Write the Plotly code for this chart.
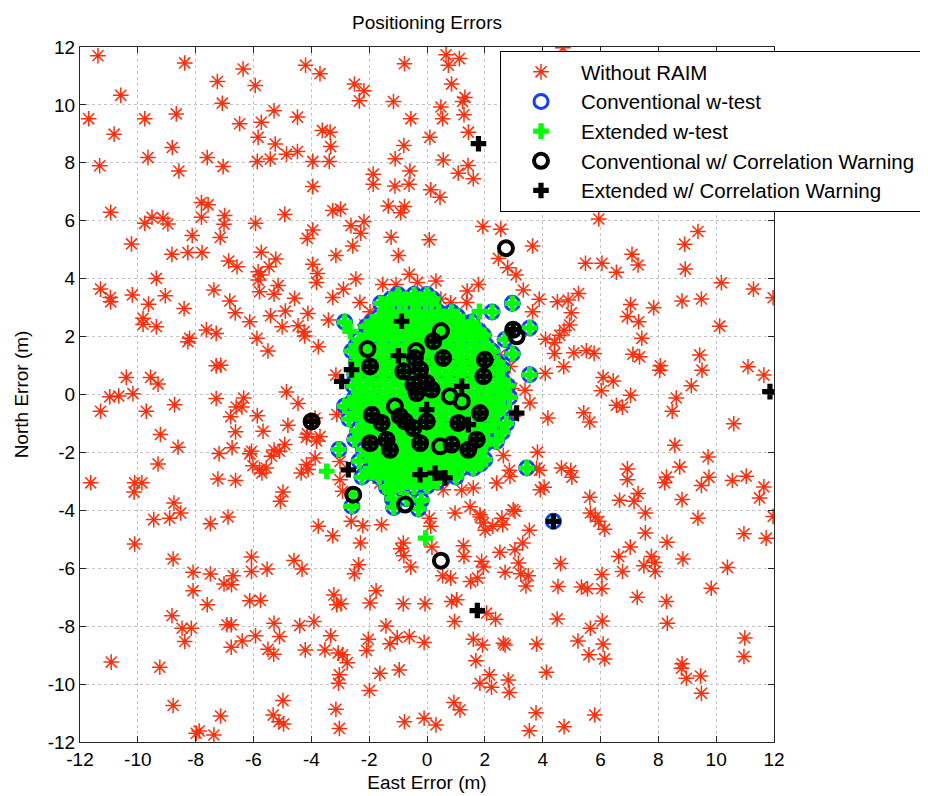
import plotly.graph_objects as go

# ---------------- data (East, North) in metres ----------------
without_raim = [
    (-11.38,11.70),(-8.38,11.45),(-6.36,11.24),(-7.25,10.81),(-5.94,10.67),(-4.20,11.37),(-10.59,10.33),(-7.08,10.06),
    (-11.70,9.52),(-9.76,9.52),(-8.67,9.69),(-10.82,8.99),(-6.48,9.35),(-5.73,9.40),(-5.29,9.80),(-4.48,9.58),
    (-5.84,8.88),(-5.25,8.65),(-8.81,8.53),(-9.65,8.18),(-7.60,8.18),(-4.86,8.30),(-4.48,8.39),(-5.87,8.05),
    (-5.42,8.13),(-11.32,7.90),(-7.05,7.87),(-8.58,7.72),(-7.80,6.63),(-7.57,6.55),(-10.94,6.29),(-9.51,6.12),
    (-9.13,6.09),(-9.76,5.91),(-8.96,5.89),(-7.80,6.12),(-7.00,6.18),(-7.02,5.88),(-5.93,5.91),(-4.92,6.22),
    (-4.14,5.39),(-10.22,5.20),(-8.12,5.49),(-7.15,5.42),(-8.82,4.84),(-8.27,4.90),(-7.78,4.90),(-5.73,4.91),
    (-6.86,4.61),(-6.57,4.41),(-5.23,4.68),(-5.46,4.41),(-5.84,4.24),(-5.75,4.13),(-5.84,3.95),(-9.36,4.01),
    (-11.29,3.64),(-10.95,3.35),(-10.94,3.20),(-10.19,3.44),(-9.05,3.41),(-9.63,3.12),(-7.37,3.61),(-6.82,3.23),
    (-6.63,2.82),(-5.79,3.55),(-5.29,3.46),(-5.15,3.76),(-4.58,3.32),(-4.12,2.80),(-8.40,2.97),(-9.82,2.63),
    (-9.82,2.42),(-9.36,2.34),(-7.63,2.23),(-7.29,2.11),(-6.13,2.51),(-5.41,2.72),(-4.90,2.88),(-5.01,2.34),
    (-4.46,2.37),(-4.25,2.17),(-4.23,2.02),(-8.21,1.94),(-8.27,1.82),(-5.88,1.94),(-5.50,1.50),(-7.29,0.99),
    (-7.13,1.01),(-10.40,0.59),(-9.56,0.59),(-9.30,0.36),(-10.17,0.03),(-10.97,-0.08),(-10.66,-0.05),(-4.86,0.09),
    (-3.70,11.08),(-0.78,11.42),(0.66,11.73),(1.12,11.60),(0.74,11.37),(-2.51,10.72),(-2.18,10.49),(-2.34,10.14),
    (0.85,10.72),(-1.16,10.12),(1.31,10.26),(1.23,10.12),(0.48,9.93),(0.54,9.52),(1.28,9.66),(-0.56,9.52),
    (-3.62,9.12),(-3.35,9.06),(-3.33,8.56),(-3.38,8.05),(-3.95,8.05),(1.43,9.06),(0.10,8.88),(-0.80,8.60),
    (-1.10,8.14),(0.56,8.10),(-0.59,7.72),(-1.86,7.61),(-1.86,7.26),(-1.11,7.20),(-0.62,7.26),(1.42,7.91),
    (1.08,7.64),(1.60,7.45),(0.13,7.07),(0.45,6.81),(-3.95,7.18),(-1.34,6.51),(-0.78,6.49),(-0.91,6.28),
    (-3.26,6.35),(-2.99,6.40),(-2.63,5.83),(-2.18,5.97),(-2.29,5.57),(-3.95,5.68),(-2.57,5.13),(-3.15,4.80),
    (-1.24,5.43),(-0.99,4.80),(0.08,5.34),(1.93,5.80),(2.55,5.71),(3.65,5.13),(2.47,4.70),(2.79,4.38),
    (3.08,4.13),(-3.95,4.50),(-3.79,4.18),(-3.82,3.87),(-2.46,3.99),(-2.89,3.64),(-3.26,3.35),(-2.32,3.18),
    (-0.61,4.15),(-1.53,3.80),(-1.07,3.80),(-0.33,3.87),(0.31,3.92),(1.78,3.80),(1.39,3.57),(1.37,3.18),
    (0.48,3.30),(0.82,3.17),(3.33,3.61),(3.88,3.29),(3.65,2.86),(-1.97,2.86),(-3.41,2.57),(-3.76,1.65),
    (-3.15,0.67),(2.50,1.36),(2.55,1.07),(3.39,0.15),(2.93,0.21),
    (4.70,11.97),(5.94,6.06),(9.37,5.63),(8.91,5.19),(8.93,4.33),(5.48,4.53),(6.05,4.53),(6.55,4.22),
    (7.09,4.84),(7.30,4.47),(10.18,3.86),(11.29,3.64),(11.97,3.34),(4.51,3.20),(4.88,3.26),(5.24,3.49),
    (4.99,2.82),(7.04,3.11),(6.93,2.69),(7.32,2.51),(7.84,3.00),(8.82,3.23),(9.49,3.30),(10.12,2.36),
    (4.10,1.91),(4.41,1.79),(4.59,2.05),(4.74,2.22),(4.93,2.40),(7.43,1.94),(4.41,1.42),(5.08,1.44),
    (5.51,1.51),(5.78,1.42),(7.12,1.39),(7.35,1.30),(9.43,1.36),(4.09,0.73),(4.73,0.96),(8.07,0.99),
    (8.05,0.84),(9.51,0.84),(11.10,0.96),(11.65,0.67),(6.09,0.59),(6.44,0.47),(6.03,0.13),(9.14,0.30),
    (-11.29,-0.58),(-9.71,-0.58),(-8.73,-0.35),(-7.29,-0.14),(-6.34,-0.12),(-6.60,-0.43),(-6.40,-0.43),(-6.79,-0.77),
    (-5.87,-0.73),(-4.46,-0.31),(-9.22,-1.38),(-8.61,-1.82),(-6.62,-1.29),(-5.67,-1.27),(-4.81,-1.06),(-4.14,-1.36),
    (-4.17,-1.48),(-9.30,-2.40),(-7.19,-2.04),(-6.74,-1.84),(-6.13,-2.05),(-6.07,-1.96),(-5.38,-2.13),(-5.29,-1.92),
    (-5.10,-1.96),(-4.92,-1.73),(-6.02,-2.46),(-5.79,-2.59),(-5.71,-2.71),(-5.56,-2.54),(-4.17,-2.42),(-4.11,-2.59),
    (-4.35,-2.71),(-11.63,-3.05),(-10.11,-3.05),(-9.86,-3.05),(-10.13,-3.37),(-7.23,-2.92),(-6.62,-2.97),(-4.98,-3.37),
    (-5.07,-3.69),(-8.75,-3.75),(-8.52,-4.09),(-8.90,-4.27),(-9.45,-4.32),(-7.49,-4.46),(-6.88,-4.23),(-10.11,-5.16),
    (-8.78,-5.68),(-6.07,-5.61),(-8.09,-6.14),(-7.49,-6.20),(-6.71,-6.26),(-7.02,-6.54),(-6.76,-6.57),(-6.07,-6.11),
    (-5.53,-6.03),(-4.60,-5.73),(-4.32,-6.03),(-8.09,-6.78),(-7.60,-7.26),(-6.13,-7.12),(-5.76,-7.11),(-8.82,-7.64),
    (-8.47,-8.07),(-8.15,-8.07),(-8.38,-8.53),(-6.92,-7.95),(-6.77,-7.95),(-5.29,-7.90),(-4.40,-7.98),(-5.93,-8.33),
    (-6.39,-8.51),(-6.77,-8.73),(-5.10,-8.36),(-5.50,-8.80),(-5.30,-8.97),(-4.21,-8.82),(-10.92,-9.24),(-9.24,-9.42),
    (-8.78,-10.74),(-7.14,-11.10),(-4.98,-10.57),(-5.32,-11.07),(-5.12,-11.30),(-4.96,-11.38),(-7.98,-11.70),(-7.88,-11.62),
    (-7.37,-11.76),
    (-3.87,-0.81),(-3.12,-0.69),(-3.82,-1.61),(-3.87,-2.19),(-3.01,-2.31),(-2.92,-3.34),(-3.76,-4.55),(-3.26,-4.88),
    (-2.62,-4.38),(-2.22,-4.53),(-2.30,-5.13),(-1.57,-4.50),(-0.82,-5.13),(-0.91,-5.33),(-0.80,-5.57),(-0.56,-5.96),
    (-2.37,-5.88),(-2.51,-6.19),(0.08,-4.27),(0.13,-4.55),(0.17,-5.27),(0.54,-6.26),(0.82,-6.34),(0.97,-4.09),
    (1.49,-3.88),(1.26,-5.22),(1.28,-5.59),(1.84,-4.23),(1.95,-4.44),(2.01,-4.69),(2.27,-4.55),(2.59,-4.27),
    (2.62,-4.50),(3.04,-4.03),(3.54,-4.69),(3.31,-5.13),(2.52,-5.45),(3.04,-5.36),(3.16,-5.82),(1.89,-5.76),
    (1.95,-5.96),(1.51,-6.46),(1.75,-6.34),(2.70,-6.14),(3.24,-6.19),(3.50,-6.26),(3.42,-6.61),(1.60,-3.23),
    (0.56,-3.29),(2.85,-2.62),(2.64,-2.11),(3.82,-1.99),(3.89,-2.62),(3.92,-3.29),(-3.22,-6.92),(-3.12,-7.26),
    (-2.97,-7.23),(-1.76,-6.78),(-1.97,-7.20),(-0.82,-7.23),(-0.07,-7.23),(0.85,-7.15),(1.03,-7.09),(2.06,-7.55),
    (2.37,-7.76),(-3.91,-7.84),(-3.33,-8.33),(-3.53,-8.82),(-3.07,-8.93),(-2.92,-8.99),(-2.76,-9.26),(-2.03,-8.45),
    (-2.09,-8.84),(-1.42,-7.99),(-1.28,-8.61),(-1.03,-8.39),(-0.61,-8.36),(-0.10,-8.56),(0.95,-7.84),(1.60,-8.45),
    (1.92,-8.65),(2.64,-8.59),(2.70,-8.65),(3.79,-8.62),(-3.03,-9.68),(-3.06,-9.97),(-1.63,-9.63),(-0.96,-9.51),
    (-1.99,-10.22),(1.69,-9.19),(2.16,-9.68),(1.83,-9.97),(2.23,-10.11),(2.81,-9.86),(2.85,-10.29),(-3.15,-10.87),
    (-3.03,-11.53),(-0.78,-11.30),(-0.10,-11.18),(0.31,-11.41),(0.93,-10.64),(1.14,-10.89),(3.54,-11.61),(3.77,-10.99),
    (7.04,-0.03),(8.62,-0.12),(6.55,-0.37),(6.76,-0.44),(4.18,-0.81),(5.42,-0.63),(5.63,-0.95),(8.48,-0.58),
    (10.61,-1.01),(8.57,-1.75),(9.72,-2.16),(4.65,-2.54),(4.97,-2.63),(5.01,-2.86),(6.93,-2.57),(6.93,-2.94),
    (8.74,-2.50),(8.28,-2.85),(8.22,-3.05),(9.49,-3.14),(9.75,-2.86),(10.56,-2.97),(11.04,-2.82),(11.65,-3.19),
    (11.50,-3.57),(4.05,-3.20),(5.63,-3.55),(6.66,-3.65),(7.16,-3.69),(7.30,-3.42),(8.82,-3.63),(5.65,-4.09),
    (5.82,-4.23),(5.94,-4.38),(6.14,-4.65),(7.55,-4.09),(7.55,-4.78),(7.03,-5.27),(8.30,-5.10),(9.37,-4.27),
    (10.96,-4.81),(11.73,-4.96),(11.97,-4.21),(4.62,-5.84),(6.63,-5.59),(6.76,-6.11),(7.50,-5.91),(7.76,-5.59),
    (7.87,-5.80),(7.89,-6.11),(8.85,-5.68),(10.39,-5.97),(6.05,-6.22),(4.53,-6.63),(5.34,-6.65),(5.55,-6.71),
    (6.05,-6.71),(7.27,-7.00),(8.28,-7.15),(9.83,-6.69),(4.50,-7.75),(6.06,-7.82),(5.65,-8.07),(8.31,-7.90),
    (5.22,-8.51),(6.09,-8.62),(5.60,-8.99),(6.14,-9.13),(4.13,-9.59),(8.82,-9.30),(8.80,-9.45),(8.97,-9.80),
    (9.46,-9.72),(10.99,-8.41),(10.96,-9.05),(9.49,-10.32),(5.80,-11.07),(4.74,-11.47),
    (-2.15,2.41),(0.33,2.87),(2.87,0.97),(2.98,-0.75),(3.56,-0.29),(3.79,-2.54),(2.41,-3.06),(2.87,-2.83),
    (2.98,-3.98),(1.83,-4.15),(-3.70,-1.45),(-3.01,-2.94),(-1.63,-3.06),(1.20,-3.30),
]

conventional_wtest = [
    (-1.00,3.45),(-0.45,3.45),(0.00,3.45),
    (-1.60,3.15),(-1.20,3.15),(-0.75,3.15),(-0.30,3.15),(0.15,3.15),(2.95,3.15),
    (-1.40,2.85),(-0.95,2.85),(-0.50,2.85),(-0.05,2.85),(0.40,2.85),(0.85,2.85),(2.25,2.85),
    (-2.85,2.50),(-1.90,2.50),(-1.50,2.50),(-1.05,2.50),(-0.60,2.50),(-0.15,2.50),(0.30,2.50),(0.75,2.50),(1.20,2.50),(1.55,2.50),
    (-1.80,2.20),(-1.35,2.20),(-0.90,2.20),(-0.45,2.20),(0.00,2.20),(0.45,2.20),(0.90,2.20),(1.35,2.20),(1.80,2.20),(3.55,2.30),
    (-2.35,1.90),(-1.90,1.90),(-1.45,1.90),(-1.00,1.90),(-0.55,1.90),(-0.10,1.90),(0.35,1.90),(0.80,1.90),(1.25,1.90),(1.70,1.90),(2.70,1.90),
    (-2.60,1.50),(-2.20,1.50),(-1.75,1.50),(-1.30,1.50),(-0.85,1.50),(-0.40,1.50),(0.05,1.50),(0.50,1.50),(0.95,1.50),(1.40,1.50),(1.85,1.50),(2.25,1.50),(2.95,1.40),
    (-2.45,1.10),(-2.00,1.10),(-1.55,1.10),(-1.10,1.10),(-0.65,1.10),(-0.20,1.10),(0.25,1.10),(0.70,1.10),(1.15,1.10),(1.60,1.10),(2.05,1.10),(2.45,1.10),
    (-2.50,0.70),(-2.05,0.70),(-1.60,0.70),(-1.15,0.70),(-0.70,0.70),(-0.25,0.70),(0.20,0.70),(0.65,0.70),(1.10,0.70),(1.55,0.70),(2.00,0.70),(2.45,0.70),(3.55,0.68),
    (-2.55,0.30),(-2.10,0.30),(-1.65,0.30),(-1.20,0.30),(-0.75,0.30),(-0.30,0.30),(0.15,0.30),(0.60,0.30),(1.05,0.30),(1.50,0.30),(1.95,0.30),(2.40,0.30),(2.80,0.30),
    (-2.50,-0.10),(-2.05,-0.10),(-1.60,-0.10),(-1.15,-0.10),(-0.70,-0.10),(-0.25,-0.10),(0.20,-0.10),(0.65,-0.10),(1.10,-0.10),(1.55,-0.10),(2.00,-0.10),(2.45,-0.10),(2.85,-0.10),
    (-2.85,-0.40),(-2.30,-0.45),(-1.85,-0.45),(-1.40,-0.45),(-0.95,-0.45),(-0.50,-0.45),(-0.05,-0.45),(0.40,-0.45),(0.85,-0.45),(1.30,-0.45),(1.75,-0.45),(2.20,-0.45),(2.65,-0.45),
    (-2.70,-0.85),(-2.25,-0.85),(-1.80,-0.85),(-1.35,-0.85),(-0.90,-0.85),(-0.45,-0.85),(0.00,-0.85),(0.45,-0.85),(0.90,-0.85),(1.35,-0.85),(1.80,-0.85),(2.25,-0.85),(2.75,-1.00),
    (-2.40,-1.25),(-1.95,-1.25),(-1.50,-1.25),(-1.05,-1.25),(-0.60,-1.25),(-0.15,-1.25),(0.30,-1.25),(0.75,-1.25),(1.20,-1.25),(1.65,-1.25),(2.10,-1.25),(2.60,-1.30),
    (-2.50,-1.55),(-2.00,-1.55),(-1.55,-1.55),(-1.10,-1.55),(-0.65,-1.55),(-0.20,-1.55),(0.25,-1.55),(0.70,-1.55),(1.15,-1.55),(1.60,-1.55),(2.05,-1.55),(2.40,-1.62),
    (-3.05,-1.90),(-2.20,-1.90),(-1.75,-1.90),(-1.30,-1.90),(-0.85,-1.90),(-0.40,-1.90),(0.05,-1.90),(0.50,-1.90),(0.95,-1.90),(1.40,-1.90),(1.85,-1.90),
    (-2.35,-2.30),(-1.90,-2.25),(-1.45,-2.25),(-1.00,-2.25),(-0.55,-2.25),(-0.10,-2.25),(0.35,-2.25),(0.80,-2.25),(1.25,-2.25),(1.70,-2.25),(2.00,-2.25),
    (-1.95,-2.55),(-1.50,-2.55),(-1.05,-2.55),(-0.60,-2.55),(-0.15,-2.55),(0.30,-2.55),(0.75,-2.55),(1.20,-2.55),(1.60,-2.55),(3.45,-2.54),
    (-2.25,-2.85),(-1.65,-2.85),(-1.20,-2.85),(-0.75,-2.85),(-0.30,-2.85),(0.15,-2.85),(0.60,-2.85),(1.00,-2.85),
    (-1.40,-3.20),(-0.90,-3.20),(-0.45,-3.20),(0.00,-3.17),
    (-1.20,-3.60),(-0.70,-3.60),(-0.20,-3.65),
    (-2.60,-3.86),(-1.15,-3.90),(-0.30,-3.95),(-2.55,-3.46),
    (4.37,-4.38),
    # denser core of the cluster
    (-1.25,3.30),(-0.75,3.30),(-0.25,3.30),(0.20,3.30),
    (-1.65,2.70),(-1.20,2.70),(-0.75,2.70),(-0.30,2.70),(0.15,2.70),(0.60,2.70),(1.05,2.70),
    (-2.10,2.35),(-1.60,2.35),(-1.15,2.35),(-0.70,2.35),(-0.25,2.35),(0.20,2.35),(0.65,2.35),(1.10,2.35),(1.50,2.35),
    (-2.10,2.05),(-1.65,2.05),(-1.20,2.05),(-0.75,2.05),(-0.30,2.05),(0.15,2.05),(0.60,2.05),(1.05,2.05),(1.50,2.05),(1.95,2.05),
    (-2.45,1.70),(-2.00,1.70),(-1.55,1.70),(-1.10,1.70),(-0.65,1.70),(-0.20,1.70),(0.25,1.70),(0.70,1.70),(1.15,1.70),(1.60,1.70),(2.05,1.70),
    (-2.40,1.30),(-1.95,1.30),(-1.50,1.30),(-1.05,1.30),(-0.60,1.30),(-0.15,1.30),(0.30,1.30),(0.75,1.30),(1.20,1.30),(1.65,1.30),(2.10,1.30),
    (-2.30,0.90),(-1.85,0.90),(-1.40,0.90),(-0.95,0.90),(-0.50,0.90),(-0.05,0.90),(0.40,0.90),(0.85,0.90),(1.30,0.90),(1.75,0.90),(2.20,0.90),(2.60,0.90),
    (-2.35,0.50),(-1.90,0.50),(-1.45,0.50),(-1.00,0.50),(-0.55,0.50),(-0.10,0.50),(0.35,0.50),(0.80,0.50),(1.25,0.50),(1.70,0.50),(2.15,0.50),(2.60,0.50),
    (-2.30,0.10),(-1.85,0.10),(-1.40,0.10),(-0.95,0.10),(-0.50,0.10),(-0.05,0.10),(0.40,0.10),(0.85,0.10),(1.30,0.10),(1.75,0.10),(2.20,0.10),(2.65,0.10),
    (-2.60,-0.28),(-2.10,-0.28),(-1.65,-0.28),(-1.20,-0.28),(-0.75,-0.28),(-0.30,-0.28),(0.15,-0.28),(0.60,-0.28),(1.05,-0.28),(1.50,-0.28),(1.95,-0.28),(2.40,-0.28),
    (-2.50,-0.65),(-2.05,-0.65),(-1.60,-0.65),(-1.15,-0.65),(-0.70,-0.65),(-0.25,-0.65),(0.20,-0.65),(0.65,-0.65),(1.10,-0.65),(1.55,-0.65),(2.00,-0.65),(2.45,-0.65),
    (-2.20,-1.05),(-1.75,-1.05),(-1.30,-1.05),(-0.85,-1.05),(-0.40,-1.05),(0.05,-1.05),(0.50,-1.05),(0.95,-1.05),(1.40,-1.05),(1.85,-1.05),(2.35,-1.05),
    (-2.20,-1.40),(-1.75,-1.40),(-1.30,-1.40),(-0.85,-1.40),(-0.40,-1.40),(0.05,-1.40),(0.50,-1.40),(0.95,-1.40),(1.40,-1.40),(1.85,-1.40),
    (-2.00,-1.72),(-1.55,-1.72),(-1.10,-1.72),(-0.65,-1.72),(-0.20,-1.72),(0.25,-1.72),(0.70,-1.72),(1.15,-1.72),(1.60,-1.72),(2.00,-1.72),
    (-2.00,-2.08),(-1.55,-2.08),(-1.10,-2.08),(-0.65,-2.08),(-0.20,-2.08),(0.25,-2.08),(0.70,-2.08),(1.15,-2.08),(1.60,-2.08),
    (-1.70,-2.40),(-1.25,-2.40),(-0.80,-2.40),(-0.35,-2.40),(0.10,-2.40),(0.55,-2.40),(1.00,-2.40),(1.45,-2.40),(1.85,-2.40),
    (-1.90,-2.70),(-1.45,-2.70),(-1.00,-2.70),(-0.55,-2.70),(-0.10,-2.70),(0.35,-2.70),(0.80,-2.70),
    (-1.20,-3.02),(-0.70,-3.02),(-0.20,-3.02),(0.35,-3.02),
]

extended_wtest_only = [(-3.47,-2.65),(-1.28,-3.34),(-0.05,-4.96),(1.81,2.87),(-2.66,2.18)]

conv_corr_warning = [
    (-1.97,0.97),(-0.82,0.80),(-0.42,1.26),(-0.24,0.86),(-0.01,0.40),(-0.47,0.34),(-0.36,0.05),(0.16,0.17),
    (0.22,1.84),(0.56,1.26),(2.00,1.20),(1.95,0.63),(2.98,2.24),(-1.91,-0.70),(-1.57,-0.98),(-0.94,-0.75),
    (-0.76,-0.93),(-0.47,-1.16),(-0.01,-0.93),(-1.97,-1.68),(-1.40,-1.56),(-1.28,-1.91),(-0.24,-1.68),(0.85,-1.73),
    (1.08,-0.98),(1.43,-1.91),(1.72,-1.56),(1.83,-0.64),(-3.99,-0.93),
    (-2.06,1.57),(-0.38,1.50),(0.48,2.19),(0.79,-0.06),(1.20,-0.24),(-1.11,-0.41),(0.45,-1.79),(-0.76,-3.80),
    (3.10,2.01),(2.73,5.05),(0.48,-5.74),(-2.55,-3.46),
]

ext_corr_warning = [
    (-1.97,0.97),(-0.82,0.80),(-0.42,1.26),(-0.24,0.86),(-0.01,0.40),(-0.47,0.34),(-0.36,0.05),(0.16,0.17),
    (0.22,1.84),(0.56,1.26),(2.00,1.20),(1.95,0.63),(2.98,2.24),(-1.91,-0.70),(-1.57,-0.98),(-0.94,-0.75),
    (-0.76,-0.93),(-0.47,-1.16),(-0.01,-0.93),(-1.97,-1.68),(-1.40,-1.56),(-1.28,-1.91),(-0.24,-1.68),(0.85,-1.73),
    (1.08,-0.98),(1.43,-1.91),(1.72,-1.56),(1.83,-0.64),(-3.99,-0.93),
    (1.78,8.66),(11.86,0.10),(-0.88,2.53),(-0.99,1.34),(-2.61,0.86),(-2.95,0.45),(1.20,0.28),(-0.01,-0.52),
    (3.10,-0.64),(1.43,-1.04),(-2.72,-2.60),(-0.24,-2.77),(0.28,-2.71),(0.62,-2.88),(4.37,-4.38),(1.74,-7.46),
]

tick_vals = [-12, -10, -8, -6, -4, -2, 0, 2, 4, 6, 8, 10, 12]

# extended w-test includes every conventional-w-test point plus a few extra
extended_wtest = conventional_wtest + extended_wtest_only


def xy(pairs):
    return [p[0] for p in pairs], [p[1] for p in pairs]


FONT = "Liberation Sans, Arial, Helvetica, sans-serif"
RED = "rgb(255,45,10)"
BLUE = "rgb(20,60,255)"

fig = go.Figure()
x, y = xy(without_raim)
fig.add_trace(go.Scatter(x=x, y=y, mode="markers", name="Without RAIM",
                         marker=dict(symbol="asterisk-open", size=13, color=RED,
                                     line=dict(width=1.5, color=RED))))
x, y = xy(conventional_wtest)
fig.add_trace(go.Scatter(x=x, y=y, mode="markers", name="Conventional w-test",
                         marker=dict(symbol="circle-open", size=14, color=BLUE,
                                     line=dict(width=3, color=BLUE))))
x, y = xy(extended_wtest)
fig.add_trace(go.Scatter(x=x, y=y, mode="markers", name="Extended w-test",
                         marker=dict(symbol="cross", size=13, color="rgb(0,255,0)",
                                     line=dict(width=0))))
x, y = xy(conv_corr_warning)
fig.add_trace(go.Scatter(x=x, y=y, mode="markers", name="Conventional w/ Correlation Warning",
                         marker=dict(symbol="circle-open", size=14, color="black",
                                     line=dict(width=4, color="black"))))
x, y = xy(ext_corr_warning)
fig.add_trace(go.Scatter(x=x, y=y, mode="markers", name="Extended w/ Correlation Warning",
                         marker=dict(symbol="cross", size=13, color="black", line=dict(width=0))))

axis_common = dict(
    range=[-12, 12], tickvals=tick_vals, ticktext=[str(v) for v in tick_vals],
    ticks="inside", ticklen=6, tickwidth=1, tickcolor="#262626",
    showline=True, linecolor="#262626", linewidth=1, mirror="ticks",
    showgrid=True, gridcolor="#c4c4c4", gridwidth=1, griddash="dot",
    zeroline=False, tickfont=dict(family=FONT, size=19, color="black"),
)

# the page adds an 8 px body margin, so the figure is 8 px smaller than the window
fig.update_layout(
    width=920, height=788,
    paper_bgcolor="white", plot_bgcolor="white",
    margin=dict(l=72, r=154, t=39, b=54, autoexpand=False),
    font=dict(family=FONT, size=19, color="black"),
    title=dict(text="Positioning Errors", x=0.5, xref="paper", xanchor="center",
               y=1 - 14 / 788, yref="container", yanchor="middle",
               font=dict(family=FONT, size=19, color="black")),
    xaxis=dict(axis_common, title=dict(text="East Error (m)", standoff=6,
                                        font=dict(family=FONT, size=19))),
    yaxis=dict(axis_common, title=dict(text="North Error (m)", standoff=14,
                                        font=dict(family=FONT, size=19))),
    legend=dict(x=(500 - 80) / 694, y=(742 - 51) / 695, xanchor="left", yanchor="top",
                bgcolor="white", bordercolor="black", borderwidth=1,
                font=dict(family=FONT, size=20.5, color="black"), itemwidth=70,
                tracegroupgap=0),
    showlegend=True,
)

fig.write_html("out.html")
